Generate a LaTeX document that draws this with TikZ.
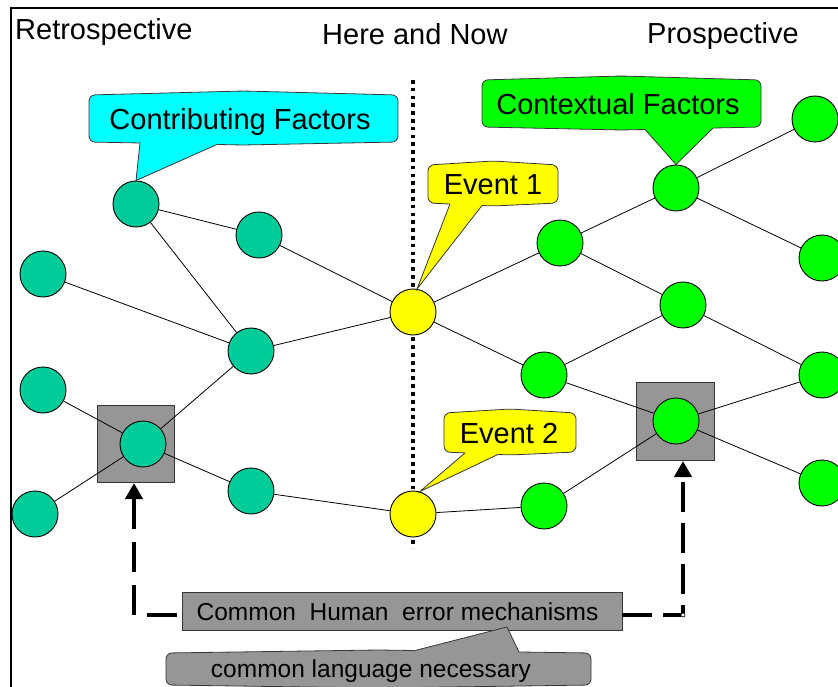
\documentclass[tikz,border=0pt]{standalone}
\usepackage{fontspec}
\setmainfont{Liberation Sans}
\usetikzlibrary{arrows.meta,calc}
\pgfdeclarelayer{back}
\pgfdeclarelayer{links}
\pgfsetlayers{back,links,main}

\definecolor{pastteal}{RGB}{0,204,153}
\definecolor{futuregreen}{RGB}{0,255,0}
\definecolor{eventyellow}{RGB}{255,255,0}
\definecolor{factorcyan}{RGB}{0,255,255}
\definecolor{mechgray}{RGB}{150,150,150}
\definecolor{rimgray}{RGB}{55,55,55}

% Speech bubble with a wedge hanging from its lower edge:
% #1 fill, #2 x1, #3 y1, #4 x2, #5 y2, #6/#7 wedge base x, #8 wedge tip
\newcommand{\downcallout}[8]{%
  \path[bubble, fill=#1, rounded corners=6pt]
    (#2,#5) -- (#2,#3) -- ({(#2+#4)/2},{#3-4}) -- (#4,#3) -- (#4,#5)
    -- ({(#2+#4)/2},{#5+3}) -- cycle;
  \coordinate (wl) at ({#6},{#5+3*(1-abs(#6-(#2+#4)/2)/((#4-#2)/2))});
  \coordinate (wr) at ({#7},{#5+3*(1-abs(#7-(#2+#4)/2)/((#4-#2)/2))});
  \fill[#1] (#8) -- ($(#8)!1.15!(wl)$) -- ($(#8)!1.15!(wr)$) -- cycle;
  \draw[bubble] (wl) -- (#8) -- (wr);
}

\begin{document}
\begin{tikzpicture}[x=1pt,y=-1pt,
  dot/.style={circle, draw=black, line width=0.9pt, minimum size=46pt, inner sep=0pt},
  past/.style={dot, fill=pastteal},
  future/.style={dot, fill=futuregreen},
  event/.style={dot, fill=eventyellow},
  link/.style={draw=black, line width=0.8pt},
  focus/.style={rectangle, draw=rimgray, fill=mechgray, line width=0.8pt,
                minimum size=77pt, inner sep=0pt},
  bigtext/.style={inner sep=0pt, font=\fontsize{29}{34}\selectfont},
  smalltext/.style={inner sep=0pt, font=\fontsize{24.5}{29}\selectfont},
  bubble/.style={draw=rimgray, line width=0.8pt},
  mechlink/.style={draw=black, line width=4pt,
                   -{Triangle[length=16pt,width=17pt]}},
]
\clip (0,0) rectangle (838,687);

% slide frame
\draw[line width=2pt] (11,690) -- (11,8.5) -- (840,8.5);

% column headings
\node[bigtext, anchor=base west] (retro) at (15,40) {Retrospective};
\node[bigtext, anchor=base west] (now) at (322,45) {Here and Now};
\node[bigtext, anchor=base west] (pros) at (647,44) {Prospective};

% the present: dotted divider
\begin{pgfonlayer}{back}
  \coordinate (nowtop) at (413,80);
  \coordinate (nowbot) at (413,548);
  \draw[line width=3.7pt, dash pattern=on 3.7pt off 4.1pt] (nowtop) -- (nowbot);
  \node[focus] (lsq) at (135.5,444) {};
  \node[focus, minimum size=78pt] (rsq) at (675,421) {};
\end{pgfonlayer}

% retrospective factors
\node[past] (p1) at (136,204) {};
\node[past] (p2) at (259,235) {};
\node[past] (p3) at (43,274) {};
\node[past] (p4) at (251,351) {};
\node[past] (p5) at (43,390) {};
\node[past] (p6) at (143,444) {};
\node[past] (p7) at (35,514) {};
\node[past] (p8) at (251,491) {};

% events
\node[event] (e1) at (413,312) {};
\node[event] (e2) at (413,514) {};

% prospective factors
\node[future] (f1) at (560,243) {};
\node[future] (f2) at (676,188) {};
\node[future] (f3) at (815,119) {};
\node[future] (f4) at (683,305) {};
\node[future] (f5) at (822,258) {};
\node[future] (f6) at (544,375) {};
\node[future] (f7) at (822,375) {};
\node[future] (f8) at (676,421) {};
\node[future] (f9) at (544,506) {};
\node[future] (f10) at (822,483) {};

\begin{pgfonlayer}{links}
  \draw[link] (p1) -- (p2);
  \draw[link] (p1) -- (p4);
  \draw[link] (p3) -- (p4);
  \draw[link] (p2) -- (e1);
  \draw[link] (p4) -- (e1);
  \draw[link] (p4) -- (p6);
  \draw[link] (p5) -- (p6);
  \draw[link] (p7) -- (p6);
  \draw[link] (p6) -- (p8);
  \draw[link] (p8) -- (e2);
  \draw[link] (e1) -- (f1);
  \draw[link] (e1) -- (f6);
  \draw[link] (f1) -- (f2);
  \draw[link] (f1) -- (f4);
  \draw[link] (f2) -- (f3);
  \draw[link] (f2) -- (f5);
  \draw[link] (f6) -- (f4);
  \draw[link] (f6) -- (f8);
  \draw[link] (f4) -- (f7);
  \draw[link] (f8) -- (f7);
  \draw[link] (f8) -- (f10);
  \draw[link] (f9) -- (f8);
  \draw[link] (e2) -- (f9);
\end{pgfonlayer}

% callouts
\downcallout{factorcyan}{89}{95}{398}{142}{140}{217}{p1.north}
\node[bigtext, anchor=base] (contrib) at (240,129.5) {Contributing Factors};

\downcallout{futuregreen}{482}{80}{761}{127}{645}{713}{f2.north}
\node[bigtext, anchor=base] (context) at (618,115) {Contextual Factors};

\downcallout{eventyellow}{428}{165}{558}{203}{450}{482}{e1.80}
\node[bigtext, anchor=base] (ev1) at (493,195) {Event 1};

\downcallout{eventyellow}{444}{413}{576}{452}{465}{498}{e2.73}
\node[bigtext, anchor=base] (ev2) at (509,443) {Event 2};

% shared error mechanisms
\node[rectangle, draw=rimgray, fill=mechgray, line width=0.8pt,
      minimum width=440pt, minimum height=38pt, inner sep=0pt] (mech) at (402,611) {};
\node[smalltext, anchor=base] (mechtext) at (397.5,620) {Common\ \ Human\ \ error mechanisms};

% callout pointing up into the mechanisms box
\path[bubble, fill=mechgray, rounded corners=6pt]
  (166,685) -- (166,653) -- (378.5,650) -- (591,653) -- (591,685) -- (378.5,688) -- cycle;
\coordinate (langtip) at (507,627);
\coordinate (langl) at (415,650.5);
\coordinate (langr) at (519,652);
\fill[mechgray] (langtip) -- ($(langtip)!1.15!(langl)$) -- ($(langtip)!1.15!(langr)$) -- cycle;
\draw[bubble] (langl) -- (langtip) -- (langr);
\node[smalltext, anchor=base] (lang) at (371,677) {common language necessary};

% dashed arrows to the highlighted factors
\coordinate (lbend) at (134,615);
\coordinate (ltip) at (134,483);
\draw[mechlink, dash pattern=on 30pt off 13pt, dash phase=38pt]
  ([yshift=-4pt]mech.west) -- (lbend) -- (ltip);

\coordinate (rbend) at (683,615);
\coordinate (rtip) at (683,461);
\draw[mechlink, dash pattern=on 30pt off 11pt]
  ([yshift=-4pt]mech.east) -- (rbend) -- (rtip);
\node[circle, draw=black, fill=white, line width=0.6pt, minimum size=4pt,
      inner sep=0pt] (rjoint) at (rbend) {};
\end{tikzpicture}
\end{document}
